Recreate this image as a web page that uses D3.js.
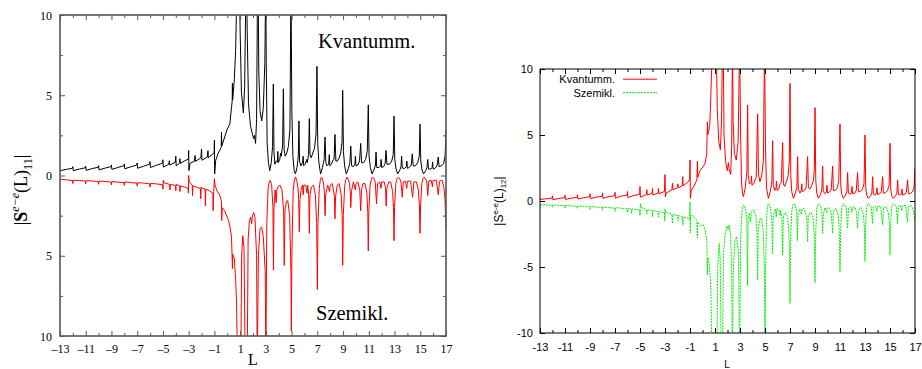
<!DOCTYPE html>
<html>
<head>
<meta charset="utf-8">
<script src="https://cdn.jsdelivr.net/npm/d3@7"></script>
<style>
  body { margin: 0; background: #fff; }
</style>
</head>
<body>
<svg id="chart" width="922" height="369"></svg>
<script>
// tick values
const xMajor = [-13, -11, -9, -7, -5, -3, -1, 1, 3, 5, 7, 9, 11, 13, 15, 17];
const xMinor = [-12, -10, -8, -6, -4, -2, 0, 2, 4, 6, 8, 10, 12, 14, 16];
const yMajor = [-10, -5, 0, 5, 10];
const yMinorLeft = [-7.5, -2.5, 2.5, 7.5];

// left panel: |S^{e-e}(L)_11|, quantum (upper) and semiclassical (lower, drawn negative)
const kvant11 = [
  [-13, 0.30], [-12.5, 0.38], [-12.05, 0.45], [-12, 0.55], [-11.97, 0.30],
  [-11.5, 0.40], [-11.05, 0.48], [-11, 0.58], [-10.97, 0.32],
  [-10.5, 0.43], [-10.05, 0.51], [-10, 0.62], [-9.97, 0.35],
  [-9.5, 0.46], [-9.05, 0.55], [-9, 0.66], [-8.97, 0.38],
  [-8.5, 0.50], [-8.05, 0.60], [-8, 0.72], [-7.97, 0.42],
  [-7.5, 0.54], [-7.05, 0.65], [-7, 0.78], [-6.97, 0.45],
  [-6.5, 0.58], [-6.05, 0.70], [-6, 0.86], [-5.97, 0.50],
  [-5.5, 0.64], [-5.05, 0.76], [-5, 0.98], [-4.97, 0.52],
  [-4.55, 0.70], [-4.5, 0.92], [-4.47, 0.65], [-4.05, 0.82], [-4, 1.20], [-3.97, 0.60],
  [-3.7, 0.78], [-3.68, 1.05], [-3.65, 0.75], [-3.3, 0.92], [-3.02, 1.02], [-3, 1.56], [-2.98, 0.31], [-2.9, 0.75],
  [-2.55, 0.90], [-2.5, 1.25], [-2.47, 0.88], [-2.05, 1.10], [-2, 1.65], [-1.97, 0.95],
  [-1.55, 1.15], [-1.5, 1.55], [-1.47, 1.10], [-1.1, 1.35], [-1.02, 1.45], [-1, 2.20], [-0.98, 0.10], [-0.9, 0.94],
  [-0.7, 1.40], [-0.47, 1.75], [-0.45, 2.70], [-0.42, 1.85], [-0.2, 2.40], [0, 2.90], [0.2, 3.20], [0.33, 4.25],
  [0.38, 4.60], [0.4, 5.75], [0.42, 4.70], [0.55, 6.00], [0.65, 7.80], [0.72, 10.5], [0.8, 12], [0.95, 12],
  [1.0, 9], [1.1, 5.2], [1.25, 3.9], [1.35, 5.5], [1.43, 10.5], [1.5, 12], [1.55, 9], [1.65, 4.5], [1.8, 3.1],
  [1.95, 2.6], [2.05, 2.3], [2.12, 2.5], [2.2, 2.0], [2.28, 3.5], [2.34, 10.5], [2.4, 12], [2.45, 6.5], [2.55, 4.0],
  [2.68, 3.4], [2.8, 4.2], [2.92, 7], [2.99, 12], [3.03, 7], [3.1, 2.0], [3.2, 0.8], [3.3, 0.3],
  [3.42, 0.8], [3.52, 1.8], [3.58, 5.7], [3.63, 1.5], [3.7, 0.7], [3.8, 0.9], [3.9, 0.85], [3.93, 1.5], [3.96, 0.8],
  [4.08, 1.0], [4.15, 1.4], [4.2, 1.2], [4.3, 1.9], [4.36, 5.4], [4.42, 1.6], [4.5, 1.2], [4.62, 1.4], [4.75, 1.8],
  [4.87, 2.9], [4.95, 12], [5.02, 4], [5.1, 1.2], [5.2, 0.3], [5.3, 0.1],
  [5.42, 0.5], [5.52, 1.2], [5.57, 3.4], [5.62, 0.9], [5.72, 0.6], [5.85, 0.8], [5.9, 1.2], [5.94, 0.6], [6.05, 0.7],
  [6.18, 1.0], [6.22, 0.8], [6.32, 1.3], [6.38, 3.55], [6.43, 1.3], [6.52, 1.1], [6.65, 1.4], [6.78, 1.7], [6.9, 2.6],
  [6.97, 6.8], [7.03, 2.0], [7.12, 0.8], [7.25, 0.1],
  [7.4, 0.5], [7.53, 1.0], [7.6, 2.4], [7.66, 0.8], [7.75, 0.6], [7.88, 0.7], [7.93, 1.3], [7.97, 0.6], [8.1, 0.7],
  [8.2, 0.95], [8.3, 1.0], [8.37, 2.56], [8.44, 0.9], [8.55, 0.9], [8.7, 1.1], [8.82, 1.4], [8.92, 2.1], [8.97, 5.3],
  [9.03, 1.5], [9.12, 0.6], [9.25, 0.1],
  [9.42, 0.45], [9.53, 0.8], [9.6, 1.83], [9.66, 0.6], [9.8, 0.55], [9.92, 0.7], [9.96, 1.2], [10, 0.6], [10.15, 0.65],
  [10.28, 0.9], [10.37, 2.0], [10.44, 0.8], [10.6, 0.8], [10.75, 1.0], [10.88, 1.5], [10.96, 4.4], [11.02, 1.2],
  [11.12, 0.5], [11.25, 0.1],
  [11.42, 0.4], [11.52, 0.65], [11.56, 1.46], [11.62, 0.5], [11.8, 0.5], [11.92, 0.6], [11.96, 1.0], [12, 0.5],
  [12.15, 0.55], [12.27, 0.75], [12.34, 1.56], [12.41, 0.7], [12.6, 0.7], [12.78, 0.9], [12.9, 1.3], [12.96, 3.7],
  [13.02, 1.0], [13.12, 0.4], [13.25, 0.1],
  [13.42, 0.35], [13.5, 0.55], [13.55, 1.2], [13.61, 0.45], [13.8, 0.45], [13.92, 0.55], [13.96, 0.9], [14, 0.45],
  [14.15, 0.5], [14.3, 0.65], [14.38, 1.35], [14.45, 0.6], [14.62, 0.6], [14.8, 0.8], [14.92, 1.2], [14.98, 3.2],
  [15.04, 0.9], [15.13, 0.35], [15.25, 0.1],
  [15.42, 0.3], [15.52, 0.5], [15.58, 1.0], [15.64, 0.4], [15.82, 0.4], [15.92, 0.5], [15.96, 0.85], [16, 0.4],
  [16.15, 0.45], [16.3, 0.6], [16.4, 1.15], [16.46, 0.55], [16.65, 0.6], [16.82, 0.75], [16.93, 1.2], [17, 2.8]
];

const szemi11 = [
  [-13, -0.22], [-12.5, -0.27], [-12.03, -0.32], [-12, -0.5], [-11.97, -0.3],
  [-11.5, -0.31], [-11.03, -0.35], [-11, -0.52], [-10.97, -0.32],
  [-10.5, -0.34], [-10.03, -0.38], [-10, -0.55], [-9.97, -0.35],
  [-9.5, -0.37], [-9.03, -0.41], [-9, -0.58], [-8.97, -0.38],
  [-8.5, -0.41], [-8.03, -0.45], [-8, -0.62], [-7.97, -0.4],
  [-7.5, -0.44], [-7.03, -0.48], [-7, -0.66], [-6.97, -0.45],
  [-6.5, -0.47], [-6.03, -0.52], [-6, -0.72], [-5.97, -0.5],
  [-5.5, -0.52], [-5.03, -0.58], [-5, -0.85], [-4.97, -0.3], [-4.9, -0.45],
  [-4.5, -0.55], [-4.45, -0.9], [-4.42, -0.55], [-4.03, -0.62], [-4, -0.95], [-3.97, -0.55],
  [-3.7, -0.65], [-3.68, -1.0], [-3.65, -0.65], [-3.3, -0.72], [-3.05, -0.8], [-3.02, -1.1], [-3, 0], [-2.95, -0.4],
  [-2.72, -0.6], [-2.7, -1.25], [-2.67, -0.65], [-2.3, -0.75], [-2.08, -0.8], [-2.06, -1.45], [-2.03, -0.75],
  [-1.72, -0.85], [-1.7, -1.9], [-1.67, -0.85], [-1.4, -0.95], [-1.12, -1.1], [-1.1, -2.2], [-1.05, -1.0], [-1, -0.2],
  [-0.95, -0.6], [-0.8, -0.95], [-0.6, -1.2], [-0.45, -1.6], [-0.43, -2.8], [-0.4, -2.0], [-0.2, -2.2], [-0.1, -2.4],
  [0.1, -2.8], [0.21, -3.2], [0.33, -3.8], [0.37, -4.9], [0.4, -5.8], [0.43, -4.9], [0.55, -5.2], [0.65, -6.5],
  [0.72, -7.8], [0.8, -12], [1.05, -12], [1.12, -5], [1.2, -3.75], [1.3, -4.5], [1.4, -12], [1.55, -12], [1.62, -4],
  [1.72, -2.8], [1.82, -2.6], [1.9, -3.0], [1.95, -2.5], [2.05, -2.3], [2.15, -2.6], [2.28, -5], [2.33, -12], [2.42, -5],
  [2.55, -3.3], [2.67, -3.2], [2.8, -3.8], [2.95, -6], [3, -12], [3.07, -3], [3.17, -0.8], [3.25, -0.4], [3.33, -0.3],
  [3.45, -0.6], [3.55, -2], [3.59, -5.9], [3.63, -2], [3.72, -0.9], [3.8, -1.7], [3.85, -0.9], [3.95, -0.7], [4.1, -0.6],
  [4.25, -0.9], [4.38, -2.2], [4.43, -5.6], [4.48, -2.2], [4.6, -1.6], [4.7, -1.56], [4.85, -2.5], [4.95, -6], [4.98, -9.7],
  [5.02, -5], [5.12, -1], [5.2, -0.35], [5.3, -0.1], [5.4, -0.3],
  [5.5, -0.8], [5.55, -1.5], [5.6, -3.5], [5.65, -1.5], [5.75, -0.8], [5.85, -0.6], [5.9, -1.2], [5.95, -0.6], [6.1, -0.6],
  [6.2, -1.1], [6.25, -0.6], [6.33, -1.2], [6.38, -3.6], [6.43, -1.2], [6.55, -0.7], [6.7, -0.6], [6.85, -1.2], [6.95, -3],
  [7, -7.1], [7.05, -3], [7.15, -0.8], [7.23, -0.3], [7.33, -0.1], [7.42, -0.3],
  [7.5, -0.6], [7.56, -1.2], [7.6, -2.5], [7.65, -1.2], [7.8, -0.6], [7.95, -1.0], [8, -0.6], [8.15, -0.5], [8.25, -0.9],
  [8.33, -1.3], [8.37, -2.7], [8.42, -1.3], [8.55, -0.6], [8.7, -0.5], [8.85, -1.2], [8.93, -2.5], [8.97, -5.6], [9.02, -2.5],
  [9.12, -0.7], [9.2, -0.3], [9.3, -0.1], [9.4, -0.25],
  [9.5, -0.5], [9.56, -1.0], [9.6, -2.0], [9.65, -1.0], [9.8, -0.4], [9.95, -0.9], [10, -0.5], [10.15, -0.4], [10.3, -0.9],
  [10.37, -2.2], [10.43, -0.9], [10.55, -0.5], [10.7, -0.5], [10.85, -1.1], [10.92, -2.3], [10.96, -4.7], [11, -2.3],
  [11.1, -0.6], [11.2, -0.25], [11.3, -0.1], [11.4, -0.2],
  [11.5, -0.4], [11.6, -1.77], [11.68, -0.5], [11.85, -0.4], [11.95, -0.8], [12, -0.4], [12.2, -0.4], [12.3, -0.8],
  [12.35, -1.9], [12.4, -0.8], [12.55, -0.4], [12.7, -0.4], [12.85, -1.0], [12.92, -2], [12.96, -4.06], [13, -2],
  [13.1, -0.5], [13.2, -0.2], [13.3, -0.1], [13.4, -0.2],
  [13.5, -0.4], [13.6, -1.35], [13.68, -0.4], [13.85, -0.35], [13.95, -0.8], [14, -0.35], [14.25, -0.35], [14.4, -1.35],
  [14.5, -0.4], [14.7, -0.4], [14.85, -0.9], [14.93, -1.8], [14.98, -3.6], [15.03, -1.8], [15.12, -0.5], [15.2, -0.2],
  [15.3, -0.1], [15.4, -0.2],
  [15.5, -0.35], [15.58, -1.25], [15.66, -0.35], [15.85, -0.3], [15.95, -0.7], [16, -0.3], [16.25, -0.3], [16.4, -1.2],
  [16.5, -0.35], [16.7, -0.3], [16.85, -0.8], [16.92, -1.5], [17, -3.3]
];

// right panel: |S^{e-e}(L)_12|
const kvant12 = [
  [-13, 0.12], [-12.5, 0.17], [-12.03, 0.22], [-12, 0.4], [-11.97, 0.1],
  [-11.5, 0.19], [-11.03, 0.25], [-11, 0.44], [-10.97, 0.12],
  [-10.5, 0.21], [-10.03, 0.28], [-10, 0.48], [-9.97, 0.15],
  [-9.5, 0.25], [-9.03, 0.32], [-9, 0.55], [-8.97, 0.18],
  [-8.5, 0.29], [-8.03, 0.36], [-8, 0.6], [-7.97, 0.2],
  [-7.5, 0.33], [-7.03, 0.4], [-7, 0.66], [-6.97, 0.22],
  [-6.5, 0.37], [-6.03, 0.45], [-6, 0.72], [-5.97, 0.25],
  [-5.5, 0.42], [-5.03, 0.5], [-5, 1.1], [-4.97, 0.28],
  [-4.5, 0.48], [-4.45, 0.85], [-4.42, 0.45], [-4.03, 0.58], [-4, 0.95], [-3.97, 0.45],
  [-3.55, 0.6], [-3.52, 0.95], [-3.48, 0.55], [-3.05, 0.72], [-3, 2.0], [-2.97, 0.3], [-2.9, 0.6],
  [-2.45, 0.85], [-2.4, 1.35], [-2.35, 0.85], [-2, 1.0], [-1.97, 1.3], [-1.93, 1.0], [-1.62, 1.15], [-1.58, 1.85],
  [-1.55, 1.15], [-1.2, 1.4], [-1.03, 1.6], [-1, 3.1], [-0.97, 0.2], [-0.9, 0.8], [-0.7, 1.1], [-0.45, 1.6],
  [-0.41, 3.0], [-0.38, 1.8], [-0.2, 2.3], [0.05, 2.6], [0.2, 2.85], [0.33, 3.5], [0.37, 4.9], [0.39, 6.0],
  [0.42, 5.0], [0.5, 5.3], [0.58, 5.8], [0.65, 7.5], [0.75, 10.5], [0.82, 12], [1.1, 12], [1.18, 7], [1.3, 4.5],
  [1.43, 3.87], [1.52, 6], [1.6, 12], [1.66, 12], [1.72, 5], [1.85, 3.0], [1.98, 2.3], [2.08, 2.9], [2.13, 2.4],
  [2.25, 2.0], [2.33, 4.0], [2.4, 12], [2.45, 6], [2.55, 3.6], [2.7, 3.1], [2.85, 4.5], [2.97, 12], [3.05, 5],
  [3.12, 1.4], [3.2, 0.6], [3.27, 0.33],
  [3.4, 0.9], [3.55, 2.2], [3.61, 7.27], [3.66, 2.0], [3.75, 1.3], [3.88, 1.4], [3.92, 1.9], [3.96, 1.2], [4.1, 1.3],
  [4.2, 1.6], [4.3, 1.8], [4.41, 6.6], [4.48, 2.0], [4.6, 1.46], [4.75, 2.0], [4.87, 3.1], [4.96, 12], [5.04, 4],
  [5.12, 1.0], [5.27, 0.2],
  [5.42, 0.7], [5.55, 1.5], [5.61, 4.57], [5.66, 1.2], [5.78, 0.8], [5.88, 1.0], [5.92, 1.5], [5.96, 0.8], [6.1, 0.9],
  [6.2, 1.3], [6.3, 1.4], [6.41, 4.42], [6.47, 1.3], [6.58, 1.1], [6.72, 1.5], [6.85, 1.9], [6.94, 3.0], [7, 8.9],
  [7.06, 2.0], [7.14, 0.7], [7.27, 0.2],
  [7.42, 0.55], [7.55, 1.1], [7.61, 3.36], [7.66, 0.9], [7.8, 0.6], [7.9, 0.8], [7.94, 1.3], [7.98, 0.7], [8.15, 0.8],
  [8.28, 1.0], [8.41, 3.36], [8.47, 1.0], [8.6, 0.9], [8.75, 1.2], [8.88, 1.6], [8.95, 2.5], [9, 7.07], [9.06, 1.6],
  [9.14, 0.6], [9.27, 0.2],
  [9.45, 0.5], [9.55, 0.9], [9.61, 2.65], [9.66, 0.7], [9.82, 0.55], [9.92, 0.75], [9.96, 1.2], [10, 0.6], [10.18, 0.7],
  [10.3, 0.9], [10.41, 2.65], [10.47, 0.8], [10.62, 0.8], [10.78, 1.0], [10.9, 1.5], [11, 5.83], [11.06, 1.2],
  [11.14, 0.5], [11.27, 0.2],
  [11.45, 0.45], [11.55, 0.75], [11.61, 2.15], [11.67, 0.6], [11.82, 0.5], [11.92, 0.65], [11.96, 1.1], [12, 0.55],
  [12.18, 0.6], [12.3, 0.8], [12.41, 2.15], [12.47, 0.7], [12.62, 0.7], [12.8, 0.9], [12.92, 1.3], [13, 5.0],
  [13.06, 1.0], [13.14, 0.45], [13.27, 0.2],
  [13.45, 0.4], [13.55, 0.65], [13.61, 1.84], [13.67, 0.5], [13.82, 0.45], [13.92, 0.6], [13.96, 1.0], [14, 0.5],
  [14.18, 0.55], [14.3, 0.7], [14.41, 1.84], [14.47, 0.6], [14.62, 0.6], [14.8, 0.8], [14.93, 1.2], [15, 4.37],
  [15.06, 0.9], [15.14, 0.4], [15.27, 0.2],
  [15.45, 0.4], [15.55, 0.6], [15.61, 1.6], [15.67, 0.5], [15.82, 0.45], [15.92, 0.55], [15.96, 0.9], [16, 0.45],
  [16.18, 0.5], [16.3, 0.65], [16.41, 1.6], [16.47, 0.55], [16.62, 0.55], [16.8, 0.7], [16.92, 1.0], [17, 2.5]
];

const szemi12 = [
  [-13, -0.28], [-12.5, -0.3], [-12.03, -0.33], [-12, -0.48], [-11.97, -0.3],
  [-11.5, -0.33], [-11.03, -0.36], [-11, -0.52], [-10.97, -0.33],
  [-10.5, -0.37], [-10.03, -0.4], [-10, -0.56], [-9.97, -0.37],
  [-9.5, -0.42], [-9.03, -0.45], [-9, -0.64], [-8.97, -0.4],
  [-8.5, -0.46], [-8.03, -0.5], [-8, -0.7], [-7.97, -0.45],
  [-7.5, -0.5], [-7.03, -0.55], [-7, -0.8], [-6.97, -0.5],
  [-6.5, -0.55], [-6.03, -0.6], [-6, -0.85], [-5.97, -0.55],
  [-5.7, -0.6], [-5.67, -0.95], [-5.64, -0.6], [-5.03, -0.68], [-5, -1.1], [-4.97, -0.2], [-4.9, -0.5],
  [-4.5, -0.65], [-4.45, -1.0], [-4.42, -0.65], [-4.03, -0.75], [-4, -1.2], [-3.97, -0.7], [-3.55, -0.8],
  [-3.52, -1.2], [-3.48, -0.8], [-3.05, -0.9], [-3.02, -1.5], [-3, -0.6], [-2.95, -0.85],
  [-2.45, -1.0], [-2.4, -1.7], [-2.35, -1.0], [-2, -1.1], [-1.97, -1.5], [-1.93, -1.1], [-1.62, -1.2], [-1.58, -1.8],
  [-1.55, -1.2], [-1.2, -1.3], [-1.03, -1.4], [-1, -0.05], [-0.98, -2.4], [-0.95, -1.0], [-0.7, -1.2], [-0.45, -1.45],
  [-0.41, -2.8], [-0.38, -1.6], [-0.1, -1.9], [0.07, -1.8], [0.2, -2.2], [0.33, -2.8], [0.37, -4.2], [0.39, -5.6],
  [0.42, -4.3], [0.5, -4.5], [0.6, -5.5], [0.68, -7], [0.75, -12], [1.15, -12], [1.22, -5], [1.33, -3.2], [1.42, -4.5],
  [1.5, -12], [1.6, -12], [1.68, -4], [1.8, -2.6], [1.95, -1.9], [2.05, -2.2], [2.12, -1.8], [2.25, -2.5], [2.33, -5],
  [2.39, -12], [2.47, -5], [2.6, -3.0], [2.72, -2.7], [2.87, -3.8], [2.97, -12], [3.05, -3], [3.15, -0.8], [3.22, -0.4],
  [3.3, -0.3],
  [3.45, -0.6], [3.55, -1.5], [3.6, -6.4], [3.65, -1.5], [3.75, -0.9], [3.85, -1.6], [3.9, -0.9], [4, -0.7], [4.15, -0.75],
  [4.28, -1.2], [4.36, -2.5], [4.41, -6.0], [4.46, -2.2], [4.58, -1.4], [4.72, -1.3], [4.85, -2.2], [4.95, -5], [5, -12],
  [5.05, -5], [5.13, -1.2], [5.2, -0.4], [5.27, -0.2], [5.37, -0.35],
  [5.45, -0.6], [5.55, -1.5], [5.6, -4.0], [5.65, -1.4], [5.75, -0.8], [5.85, -0.6], [5.9, -1.2], [5.95, -0.6], [6.1, -0.65],
  [6.2, -1.1], [6.25, -0.7], [6.35, -1.3], [6.41, -4.1], [6.46, -1.3], [6.56, -0.9], [6.68, -0.9], [6.82, -1.3], [6.94, -3],
  [7, -7.75], [7.06, -2.5], [7.15, -0.7], [7.23, -0.3], [7.32, -0.2], [7.42, -0.35],
  [7.5, -0.6], [7.55, -1.2], [7.59, -3.0], [7.64, -1.2], [7.78, -0.6], [7.93, -1.0], [7.97, -0.6], [8.12, -0.55],
  [8.25, -0.9], [8.35, -1.3], [8.41, -3.1], [8.46, -1.2], [8.58, -0.9], [8.7, -0.9], [8.85, -1.3], [8.94, -2.6], [9, -6.2],
  [9.06, -2.3], [9.14, -0.6], [9.2, -0.3], [9.27, -0.2], [9.38, -0.3],
  [9.5, -0.55], [9.56, -1.0], [9.61, -2.45], [9.66, -1.0], [9.8, -0.5], [9.94, -0.9], [9.98, -0.55], [10.15, -0.5],
  [10.3, -0.9], [10.41, -2.45], [10.46, -0.9], [10.58, -0.6], [10.7, -0.6], [10.86, -1.1], [10.94, -2.3], [11, -5.35],
  [11.06, -2.0], [11.14, -0.5], [11.2, -0.3], [11.27, -0.2], [11.38, -0.3],
  [11.5, -0.5], [11.61, -2.07], [11.68, -0.55], [11.85, -0.45], [11.95, -0.85], [12, -0.45], [12.2, -0.45], [12.3, -0.8],
  [12.41, -2.07], [12.47, -0.8], [12.6, -0.5], [12.72, -0.55], [12.87, -1.0], [12.95, -2.0], [13, -4.6], [13.05, -1.8],
  [13.13, -0.5], [13.2, -0.3], [13.27, -0.2], [13.38, -0.3],
  [13.5, -0.45], [13.6, -1.7], [13.67, -0.45], [13.85, -0.4], [13.95, -0.8], [14, -0.4], [14.25, -0.4], [14.41, -1.8],
  [14.48, -0.45], [14.7, -0.45], [14.87, -0.9], [14.95, -1.8], [15, -4.1], [15.05, -1.6], [15.13, -0.45], [15.2, -0.3],
  [15.27, -0.2], [15.38, -0.3],
  [15.5, -0.4], [15.6, -1.7], [15.67, -0.4], [15.85, -0.35], [15.95, -0.75], [16, -0.35], [16.25, -0.35], [16.4, -1.6],
  [16.47, -0.4], [16.7, -0.35], [16.87, -0.7], [16.94, -1.2], [17, -1.5]
];

const svg = d3.select("#chart");
svg.append("rect").attr("width", 922).attr("height", 369).attr("fill", "#fff");

function drawPanel(p) {
  const x = d3.scaleLinear().domain([-13, 17]).range([p.left, p.right]);
  const y = d3.scaleLinear().domain([-10, 10]).range([p.bottom, p.top]);
  const g = svg.append("g");

  svg.append("clipPath").attr("id", "clip-" + p.id)
    .append("rect")
    .attr("x", p.left).attr("y", p.top)
    .attr("width", p.right - p.left).attr("height", p.bottom - p.top);

  const line = d3.line().x(d => x(d[0])).y(d => y(d[1]));

  p.series.forEach(s => {
    g.append("path")
      .datum(s.data)
      .attr("clip-path", "url(#clip-" + p.id + ")")
      .attr("fill", "none")
      .attr("stroke", s.color)
      .attr("stroke-width", s.width)
      .attr("stroke-dasharray", s.dash || null)
      .attr("d", line);
  });

  // ticks, all pointing inward, on all four sides
  const axes = [
    [d3.axisBottom(x), p.bottom, true, xMajor, xMinor],
    [d3.axisTop(x), p.top, true, xMajor, xMinor],
    [d3.axisLeft(y), p.left, false, yMajor, p.yMinor],
    [d3.axisRight(y), p.right, false, yMajor, p.yMinor]
  ];
  axes.forEach(([ax, pos, horiz, major, minor], i) => {
    const tr = horiz ? "translate(0," + pos + ")" : "translate(" + pos + ",0)";
    if (minor.length) {
      const gm = g.append("g").attr("transform", tr)
        .call(ax.tickValues(minor).tickSize(-p.minorLen).tickFormat(""));
      gm.select(".domain").remove();
      gm.selectAll("line").attr("stroke", p.axisColor);
    }
    const labelled = i === 0 || i === 2;
    const ga = g.append("g").attr("transform", tr)
      .call(ax.tickValues(major).tickSize(-p.majorLen)
        .tickFormat(labelled ? (horiz ? p.xFormat : p.yFormat) : ""));
    ga.select(".domain").remove();
    ga.selectAll("line").attr("stroke", p.axisColor);
    ga.selectAll("text")
      .attr("fill", "#000")
      .style("font-family", p.font)
      .style("font-size", p.tickFont + "px");
    if (i === 0) ga.selectAll("text").attr("y", p.xLabelY - p.bottom).attr("dy", null);
    if (i === 2) ga.selectAll("text").attr("x", p.yLabelX - p.left).attr("dy", "0.35em");
  });

  g.append("rect")
    .attr("x", p.left).attr("y", p.top)
    .attr("width", p.right - p.left).attr("height", p.bottom - p.top)
    .attr("fill", "none")
    .attr("stroke", p.axisColor)
    .attr("stroke-width", p.frameWidth);

  return { x, y, g };
}

// ---- left panel ----
const left = drawPanel({
  id: "l", left: 60, right: 446, top: 15, bottom: 336,
  font: "Liberation Serif", tickFont: 12,
  axisColor: "#555", frameWidth: 1.6, majorLen: 5, minorLen: 3,
  yMinor: yMinorLeft,
  xFormat: d => (d < 0 ? "\u2013" + (-d) : String(d)),
  yFormat: d => String(Math.abs(d)),
  xLabelY: 353, yLabelX: 52,
  series: [
    { data: kvant11, color: "#000", width: 1 },
    { data: szemi11, color: "#ff0000", width: 1 }
  ]
});

left.g.append("text").attr("x", 318).attr("y", 48)
  .style("font-family", "Liberation Serif").style("font-size", "20.5px")
  .text("Kvantumm.");
left.g.append("text").attr("x", 316).attr("y", 320)
  .style("font-family", "Liberation Serif").style("font-size", "20.5px")
  .text("Szemikl.");
left.g.append("text").attr("x", 253).attr("y", 364.5).attr("text-anchor", "middle")
  .style("font-family", "Liberation Serif").style("font-size", "16px")
  .text("L");

const lLab = left.g.append("text")
  .attr("transform", "translate(27,190) rotate(-90)")
  .attr("text-anchor", "middle")
  .style("font-family", "Liberation Serif").style("font-size", "18px");
lLab.append("tspan").text("|");
lLab.append("tspan").style("font-weight", "bold").text("S");
lLab.append("tspan").attr("dy", -8).style("font-size", "12px").style("font-style", "italic").text("e\u2212e");
lLab.append("tspan").attr("dy", 8).text("(L)");
lLab.append("tspan").attr("dy", 5).style("font-size", "12px").text("11");
lLab.append("tspan").attr("dy", -5).text("|");

// ---- right panel ----
const right = drawPanel({
  id: "r", left: 540, right: 915, top: 69, bottom: 333,
  font: "Liberation Sans", tickFont: 11,
  axisColor: "#000", frameWidth: 1, majorLen: 5, minorLen: 3,
  yMinor: [],
  xFormat: d => String(d),
  yFormat: d => String(d),
  xLabelY: 351, yLabelX: 533,
  series: [
    { data: kvant12, color: "#ff0000", width: 1 },
    { data: szemi12, color: "#00ee00", width: 1, dash: "2,1" }
  ]
});

right.g.append("text").attr("x", 727).attr("y", 367.5).attr("text-anchor", "middle")
  .style("font-family", "Liberation Sans").style("font-size", "10px")
  .text("L");

const rLab = right.g.append("text")
  .attr("transform", "translate(503,201) rotate(-90)")
  .attr("text-anchor", "middle")
  .style("font-family", "Liberation Sans").style("font-size", "12px");
rLab.append("tspan").text("|S");
rLab.append("tspan").attr("dy", -5).style("font-size", "8px").text("e-e");
rLab.append("tspan").attr("dy", 5).text("(L)");
rLab.append("tspan").attr("dy", 3).style("font-size", "8px").text("12");
rLab.append("tspan").attr("dy", -3).text("|");

// legend
const legend = [
  { label: "Kvantumm.", color: "#ff0000", dash: null, y: 83 },
  { label: "Szemikl.", color: "#00ee00", dash: "2,1", y: 96.5 }
];
legend.forEach(l => {
  right.g.append("text").attr("x", 615).attr("y", l.y).attr("text-anchor", "end")
    .style("font-family", "Liberation Sans").style("font-size", "11px")
    .text(l.label);
  right.g.append("line")
    .attr("x1", 623).attr("x2", 657).attr("y1", l.y - 3.8).attr("y2", l.y - 3.8)
    .attr("stroke", l.color).attr("stroke-width", 1)
    .attr("stroke-dasharray", l.dash);
});
</script>
</body>
</html>
